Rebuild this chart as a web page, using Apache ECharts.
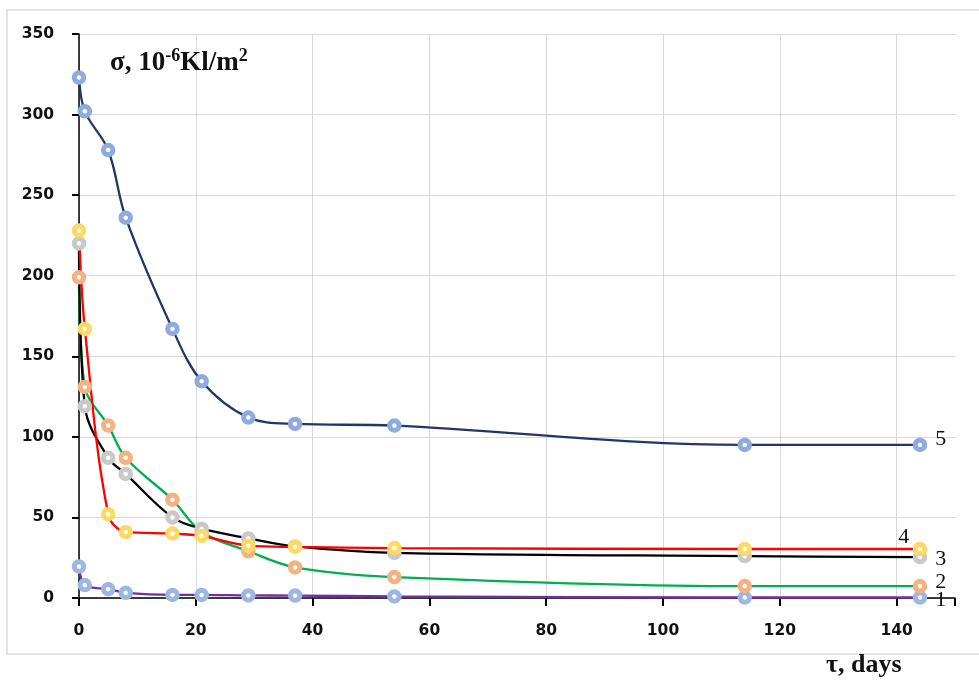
<!DOCTYPE html>
<html>
<head>
<meta charset="utf-8">
<script src="https://cdn.jsdelivr.net/npm/echarts@6/dist/echarts.min.js"></script>
<style>
html,body{margin:0;padding:0;background:#fff;}
#chart{width:979px;height:681px;}
</style>
</head>
<body>
<div id="chart"></div>
<script>
// ---- data ----
var days = [0, 1, 5, 8, 16, 21, 29, 37, 54, 114, 144];
var curve1 = [19.5, 8, 5.5, 3.2, 1.9, 1.9, 1.6, 1.5, 1, 0.3, 0.3];
var curve2 = [199, 131, 107, 87, 61, 41, 29, 19, 13, 7.4, 7.4];
var curve3 = [220, 119, 87, 77, 50, 43, 37, 32, 28, 26, 25.4];
var curve4 = [228, 167, 52, 41, 40, 38.5, 32.5, 31.7, 31, 30.4, 30.4];
var curve5 = [323, 302, 278, 236, 167, 134.5, 112, 108, 107, 95, 95];
var curveNames = ['1', '2', '3', '4', '5'];
var yTicks = [0, 50, 100, 150, 200, 250, 300, 350];
var xTicks = [0, 20, 40, 60, 80, 100, 120, 140];

var chart = echarts.init(document.getElementById('chart'), null, {renderer: 'canvas'});

function mkSeries(name, values, lineColor, markerColor, labelOffset) {
  var data = values.map(function (v, i) {
    var item = {value: [days[i], v]};
    if (i === values.length - 1) {
      item.label = {
        show: true, formatter: name, position: 'right', offset: labelOffset,
        fontFamily: 'Liberation Serif', fontSize: 22, color: '#111'
      };
    }
    return item;
  });
  return {
    type: 'line', name: name, data: data, smooth: 0.35,
    symbol: 'circle', symbolSize: 9.5, showSymbol: true,
    lineStyle: {color: lineColor, width: 2.3},
    itemStyle: {color: '#fff', borderColor: markerColor, borderWidth: 5},
    emphasis: {disabled: true},
    animation: false
  };
}

var gridLineColors = [];
for (var k = 0; k < xTicks.length; k++) gridLineColors.push('#d9d9d9');
gridLineColors.push('rgba(0,0,0,0)');

var option = {
  backgroundColor: '#fff',
  animation: false,
  grid: {left: 79, right: 24, top: 34, bottom: 83, containLabel: false},
  title: {
    left: 105, top: 42,
    text: '{a|σ, 10}{s|-6}{a|Kl/m}{s|2}',
    textStyle: {
      rich: {
        a: {fontFamily: 'Liberation Serif', fontWeight: 'bold', fontSize: 27, color: '#111', lineHeight: 32},
        s: {fontFamily: 'Liberation Serif', fontWeight: 'bold', fontSize: 18, color: '#111', verticalAlign: 'top', lineHeight: 16}
      }
    }
  },
  xAxis: {
    type: 'value', min: 0, max: 150, interval: 20, offset: 7,
    axisLine: {show: true, lineStyle: {color: '#000', width: 1.5}},
    axisTick: {show: true, length: 8, lineStyle: {color: '#000', width: 2}},
    axisLabel: {
      margin: 18, fontFamily: 'DejaVu Sans', fontWeight: 'bold', fontSize: 15.5, color: '#111',
      formatter: function (v) { return xTicks.indexOf(v) >= 0 ? String(v) : ''; }
    },
    splitLine: {show: true, lineStyle: {color: gridLineColors, width: 1}}
  },
  yAxis: {
    type: 'value', min: 0, max: 350, interval: 50,
    axisLine: {show: true, lineStyle: {color: '#000', width: 1.5}},
    axisTick: {show: true, length: 7, lineStyle: {color: '#000', width: 2}},
    axisLabel: {
      margin: 25, fontFamily: 'DejaVu Sans', fontWeight: 'bold', fontSize: 15.5, color: '#111',
      formatter: function (v) { return yTicks.indexOf(v) >= 0 ? String(v) : ''; }
    },
    splitLine: {show: true, lineStyle: {color: '#d9d9d9', width: 1}}
  },
  graphic: [
    {type: 'rect', silent: true, z: -10, shape: {x: 7, y: 10, width: 990, height: 644},
     style: {fill: 'none', stroke: '#dcdcdc', lineWidth: 1.5}},
    {type: 'line', silent: true, shape: {x1: 79, y1: 597, x2: 79, y2: 606},
     style: {stroke: '#000', lineWidth: 1.5}},
    {type: 'text', silent: true, left: 826, top: 652,
     style: {text: 'τ, days', fontFamily: 'Liberation Serif', fontWeight: 'bold', fontSize: 26, fill: '#111'}}
  ],
  series: [
    mkSeries(curveNames[0], curve1, '#7030A0', '#9DB7E0', [3, 3]),
    mkSeries(curveNames[1], curve2, '#00B050', '#F4B183', [3, -4]),
    mkSeries(curveNames[2], curve3, '#000000', '#C9C9C9', [3, 2]),
    mkSeries(curveNames[3], curve4, '#FF0000', '#FFD966', [-34, -12]),
    mkSeries(curveNames[4], curve5, '#1F3864', '#8FAADC', [3, -6])
  ]
};
chart.setOption(option);
</script>
</body>
</html>
